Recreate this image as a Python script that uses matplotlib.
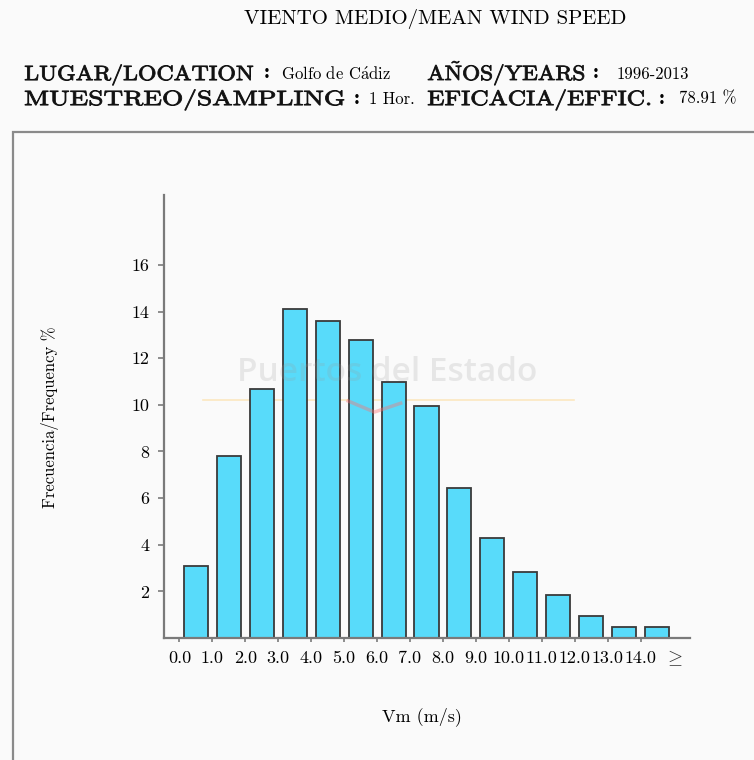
#!/usr/bin/env python3
"""
Mean wind speed histogram (Golfo de Cadiz, 1996-2013)
Frequency of hourly mean wind speed by 1 m/s class
"""

import matplotlib
matplotlib.use("Agg")
import matplotlib.pyplot as plt
from matplotlib.patches import Rectangle, PathPatch
from matplotlib.textpath import TextPath
from matplotlib.font_manager import FontProperties
from matplotlib.transforms import Affine2D
import numpy as np

# Wind speed classes (m/s) and frequency (%)
speed_bins = [0.0, 1.0, 2.0, 3.0, 4.0, 5.0, 6.0, 7.0, 8.0, 9.0, 10.0, 11.0, 12.0, 13.0, 14.0]
frequency = [3.09, 7.80, 10.70, 14.13, 13.59, 12.76, 10.97, 9.97, 6.45, 4.27, 2.83, 1.83, 0.94, 0.49, 0.49]
tick_labels = [f"{v:.1f}" for v in speed_bins]
y_ticks = [2, 4, 6, 8, 10, 12, 14, 16]

plt.rcParams["mathtext.fontset"] = "cm"
plt.rcParams["axes.formatter.use_mathtext"] = True

BG = "#fafafa"
BAR = "#58dbfa"
GREY = "#7a7a7a"
W, H = 754, 760
PT = 100 / 72  # pixels per point at dpi 100

fig = plt.figure(figsize=(W / 100, H / 100), dpi=100, facecolor=BG)


def px(x, y):
    """pixel position -> figure fraction"""
    return x / W, 1 - y / H


def wide_label(x0, x1, yc, s, size=15):
    """semi-bold extended caps: cmr10 outline, stroked, stretched to span x0..x1 (pixels)"""
    tp = TextPath((0, 0), s, size=size, prop=FontProperties(family="cmr10"))
    bb = tp.get_extents()
    sx = (x1 - x0) / (bb.width * PT)
    cap = 0.683 * size * PT
    tr = Affine2D().translate(-bb.x0, 0).scale(sx * PT, PT).translate(x0, H - yc - cap / 2)
    fig.add_artist(PathPatch(tp, transform=tr, facecolor="#111111", edgecolor="#111111",
                             linewidth=0.6))


# Header
fig.text(*px(435, 19), "VIENTO MEDIO/MEAN WIND SPEED", family="cmr10",
         fontsize=15, ha="center", va="center")

small = dict(family="cmr10", fontsize=12, va="center", ha="left")
header = [
    (25, 253, 73, "LUGAR/LOCATION", 267, 281, r"Golfo de C$\acute{\mathrm{a}}$diz"),
    (428, 584, 73, r"A$\mathrm{\tilde{N}}$OS/YEARS", 596, 617, "1996-2013"),
    (25, 344, 98, "MUESTREO/SAMPLING", 357, 369, "1 Hor."),
    (428, 650, 98, "EFICACIA/EFFIC.", 662, 679, "78.91 %"),
]
for x0, x1, y0, label, xc, xv, value in header:
    wide_label(x0, x1, y0, label)
    fig.text(*px(xc, y0), ":", family="cmb10", fontsize=15, ha="center", va="center")
    fig.text(*px(xv, y0 + 1), value, **small)

# Frame around the plot area
frame = Rectangle(px(13, 800), (W + 40) / W, (800 - 132) / H, transform=fig.transFigure,
                  fill=False, edgecolor="#8a8a8a", linewidth=1.6)
fig.patches.append(frame)

ax = fig.add_axes([164 / W, 1 - 638 / H, (690 - 164) / W, (638 - 195) / H])
ax.set_facecolor("none")

x = np.arange(len(frequency)) + 0.5
ax.bar(x, frequency, width=0.73, color=BAR, edgecolor="#3a3a3a", linewidth=1.3, zorder=2)

ax.set_xlim(-0.47, 15.5)
ax.set_ylim(0, 19)

for side in ["top", "right"]:
    ax.spines[side].set_visible(False)
for side in ["left", "bottom"]:
    ax.spines[side].set_color(GREY)
    ax.spines[side].set_linewidth(1.6)

ax.set_xticks(np.arange(len(speed_bins)))
ax.set_xticklabels(tick_labels, family="cmr10", fontsize=13)
ax.set_yticks(y_ticks)
ax.set_yticklabels([str(t) for t in y_ticks], family="cmr10", fontsize=13)
ax.tick_params(axis="x", direction="out", length=3, width=1.2, color=GREY, pad=6)
ax.tick_params(axis="y", direction="out", length=4.5, width=1.2, color=GREY, pad=6)

# open-ended last class
ax.text(15, -0.45, r"$\geq$", transform=ax.transData, fontsize=14, ha="center", va="top",
        color="#333333")

fig.text(*px(50, 417), "Frecuencia/Frequency %", family="cmr10", fontsize=12,
         rotation=90, ha="center", va="center")
fig.text(*px(422, 717), "Vm (m/s)", family="cmr10", fontsize=13, ha="center", va="center")

# Watermark
ax.text(0.425, 0.60, "Puertos del Estado", transform=ax.transAxes, family="Open Sans",
        fontsize=24, fontweight="semibold", color="#9a9a9a", alpha=0.2,
        ha="center", va="center", zorder=3)
ax.axhline(10.2, xmin=0.075, xmax=0.78, color="#ffd27a", alpha=0.45, linewidth=1.2, zorder=1)
ax.plot([0.35, 0.40, 0.45], [0.535, 0.51, 0.53], transform=ax.transAxes,
        color="#ff7070", alpha=0.4, linewidth=2.5, zorder=3)

fig.savefig("out.png", dpi=100, facecolor=BG)
